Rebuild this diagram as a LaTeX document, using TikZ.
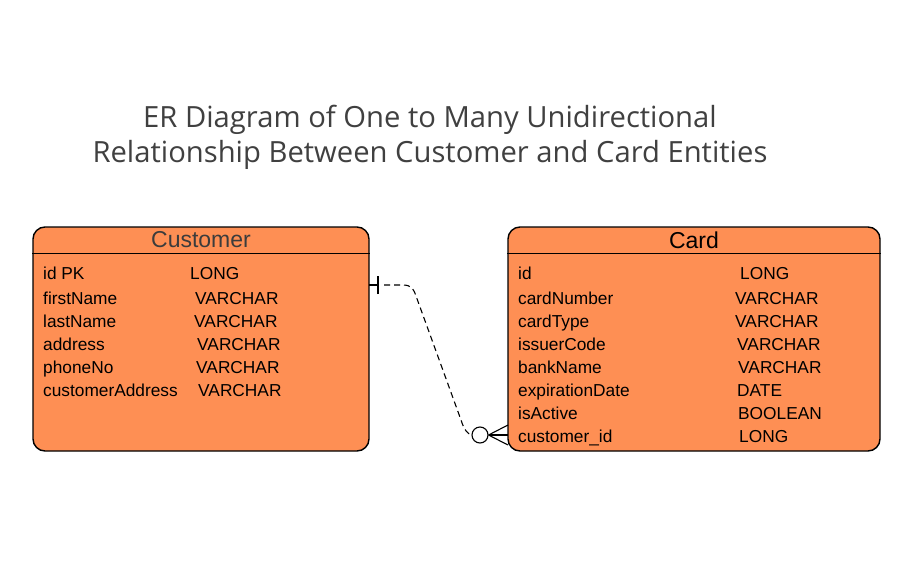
\documentclass[tikz,border=0pt]{standalone}
\usepackage{fontspec}
\setmainfont{Liberation Sans}
\newfontfamily\titlefont{Open Sans}
\usetikzlibrary{positioning}
\definecolor{entityorange}{RGB}{254,143,84}
\definecolor{titlegray}{RGB}{64,64,64}
\definecolor{headgray}{RGB}{60,60,60}
\tikzset{
  entitybox/.style={draw=black,fill=entityorange,rounded corners=12pt,line width=1.4pt,inner sep=0pt},
  headline/.style={line width=1.2pt},
  headtext/.style={font=\fontsize{23}{26}\selectfont,inner sep=0pt},
  fieldtext/.style={font=\fontsize{17.3}{20}\selectfont,anchor=base west,inner sep=0pt,text=black},
  relline/.style={dashed,dash pattern=on 6pt off 4pt,line width=1.1pt},
  endmark/.style={line width=1.1pt},
  manyring/.style={circle,draw,fill=white,line width=1.1pt,minimum size=16pt,inner sep=0pt}
}
\begin{document}
\begin{tikzpicture}[x=1pt,y=-1pt]
  \useasboundingbox (0,0) rectangle (916,576);

  \node[align=center,text=titlegray,font=\titlefont\fontsize{29.2}{35}\selectfont] (title) at (430,137)
    {ER Diagram of One to Many Unidirectional\\Relationship Between Customer and Card Entities};

  % entities
  \node[entitybox,minimum width=336pt,minimum height=224pt] (customer) at (201,339) {};
  \node[entitybox,minimum width=372pt,minimum height=224pt] (card) at (694,339) {};
  \draw[headline] ([yshift=-27pt]customer.north west) -- ([yshift=-27pt]customer.north east);
  \draw[headline] ([yshift=-27pt]card.north west) -- ([yshift=-27pt]card.north east);
  \node[headtext,text=headgray] (customerhead) at (201,240) {Customer};
  \node[headtext,text=black] (cardhead) at (694,240) {Card};

  \foreach \fname/\ftype/\tx/\ty [count=\i] in {id PK/LONG/190/279,firstName/VARCHAR/195/304,
      lastName/VARCHAR/194/327,address/VARCHAR/197/350,phoneNo/VARCHAR/196/373,
      customerAddress/VARCHAR/198/396}{
    \node[fieldtext] (cname\i) at (43,\ty) {\fname};
    \node[fieldtext] (ctype\i) at (\tx,\ty) {\ftype};
  }
  \foreach \fname/\ftype/\tx/\ty [count=\i] in {id/LONG/740/279,cardNumber/VARCHAR/735/304,
      cardType/VARCHAR/735/327,issuerCode/VARCHAR/737/350,bankName/VARCHAR/738/373,
      expirationDate/DATE/737/396,isActive/BOOLEAN/738/419,customer\_id/LONG/739/442}{
    \node[fieldtext] (kname\i) at (518,\ty) {\fname};
    \node[fieldtext] (ktype\i) at (\tx,\ty) {\ftype};
  }

  % relationship
  \coordinate (oneport) at (369,285);
  \coordinate (onebar) at (378,285);
  \coordinate (manyport) at (508,435);
  \node[manyring] (ring) at (480,435) {};
  \draw[endmark] (oneport) -- (onebar);
  \draw[endmark] ([yshift=-9pt]onebar) -- ([yshift=9pt]onebar);
  \draw[relline] ([xshift=6pt]onebar) -- (403,285) .. controls (412,285) and (414,290) .. (416,296)
    -- (461,420) .. controls (464,430) and (468,434) .. (ring.west);
  \draw[endmark] (ring.east) -- ([yshift=-10pt]manyport);
  \draw[endmark] (ring.east) -- (manyport);
  \draw[endmark] (ring.east) -- ([yshift=10pt]manyport);
\end{tikzpicture}
\end{document}
